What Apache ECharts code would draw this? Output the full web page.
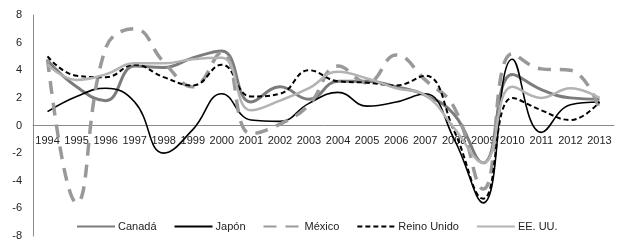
<!DOCTYPE html>
<html>
<head>
<meta charset="utf-8">
<script src="https://cdn.jsdelivr.net/npm/echarts@6/dist/echarts.min.js"></script>
<style>html,body{margin:0;padding:0;background:#fff;}#c{width:619px;height:243px;}</style>
</head>
<body>
<div id="c"></div>
<script>
const years = ['1994','1995','1996','1997','1998','1999','2000','2001','2002','2003','2004','2005','2006','2007','2008','2009','2010','2011','2012','2013'];
const yTicks = [-8, 8, 2];
const canada = [4.7, 2.8, 1.8, 4.3, 4.2, 4.9, 5.4, 1.7, 2.8, 1.9, 3.2, 3.2, 2.8, 2.2, 0.8, -2.7, 3.7, 2.6, 2.0, 1.9];
const japon = [1.0, 2.1, 2.7, 1.7, -2.0, -0.3, 2.3, 0.4, 0.3, 1.6, 2.4, 1.4, 1.7, 2.3, -1.0, -5.6, 4.8, -0.5, 1.5, 1.7];
const mexico = [4.8, -5.6, 5.6, 7.0, 4.6, 2.8, 5.3, -0.6, 0.1, 1.5, 4.3, 3.1, 5.1, 3.3, 1.3, -4.6, 5.2, 4.1, 4.0, 1.2];
const reinoUnido = [5.0, 3.6, 3.5, 4.4, 3.5, 2.9, 4.4, 2.1, 2.3, 4.0, 3.2, 3.1, 2.9, 3.6, -0.4, -5.3, 2.0, 1.1, 0.4, 1.7];
const eeuu = [4.4, 3.3, 3.7, 4.5, 4.5, 4.8, 4.9, 1.1, 1.8, 2.7, 3.9, 3.4, 2.7, 2.2, -0.2, -2.7, 2.8, 2.0, 2.7, 2.0];

const font = 'Liberation Sans';
const gridTop = 15, gridBottom = 7, H = 243;
const chart = echarts.init(document.getElementById('c'));
// place the category axis (line and labels) at value 0
const plotH = H - gridTop - gridBottom;
const zeroOffset = -plotH * (0 - yTicks[0]) / (yTicks[1] - yTicks[0]);
function s(name, data, color, width, type) {
  return {
    name: name, type: 'line', data: data, smooth: 0.45, symbol: 'none',
    lineStyle: { color: color, width: width, type: type },
    itemStyle: { color: color }
  };
}
chart.setOption({
  animation: false,
  textStyle: { fontFamily: font },
  grid: { left: 33, right: 5, top: gridTop, bottom: gridBottom },
  legend: {
    left: 71, top: 216, itemWidth: 38, itemHeight: 10, itemGap: 17,
    itemStyle: { opacity: 0 },
    textStyle: { fontFamily: font, fontSize: 11, color: '#222', padding: [0, 0, 0, -2] },
    data: ['Canadá', 'Japón', 'México', 'Reino Unido', 'EE. UU.']
  },
  xAxis: {
    type: 'category', data: years, boundaryGap: true, position: 'bottom',
    offset: zeroOffset,
    axisLine: { onZero: false, lineStyle: { color: '#8a8a8a', width: 1 } },
    axisTick: { show: false },
    axisLabel: { interval: 0, margin: 10, fontSize: 11, color: '#222', fontFamily: font },
    splitLine: { show: false }
  },
  yAxis: {
    type: 'value', min: yTicks[0], max: yTicks[1], interval: yTicks[2],
    axisLine: { show: true, lineStyle: { color: '#8a8a8a', width: 1 } },
    axisTick: { show: false },
    axisLabel: { margin: 11, fontSize: 11, color: '#222', fontFamily: font },
    splitLine: { show: false }
  },
  series: [
    s('Canadá', canada, '#7c7c7c', 3, 'solid'),
    s('Japón', japon, '#000000', 1.6, 'solid'),
    s('México', mexico, '#999999', 3.5, [13, 9]),
    s('Reino Unido', reinoUnido, '#000000', 2, [5, 3]),
    s('EE. UU.', eeuu, '#b3b3b3', 2.5, 'solid')
  ]
});
</script>
</body>
</html>
